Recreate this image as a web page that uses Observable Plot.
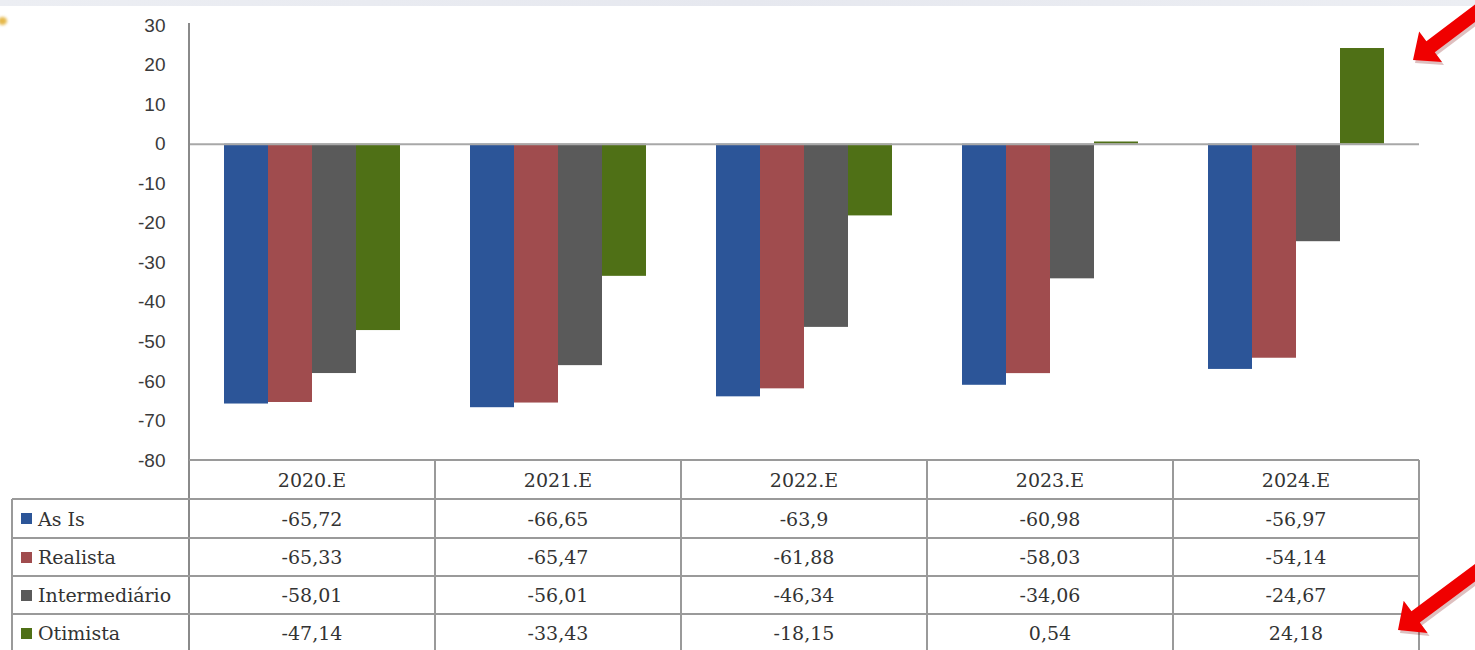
<!DOCTYPE html>
<html><head><meta charset="utf-8">
<script src="https://cdn.jsdelivr.net/npm/d3@7"></script>
<script src="https://cdn.jsdelivr.net/npm/@observablehq/plot@0.6"></script>
<style>
html,body{margin:0;padding:0;background:#fff;}
#wrap{position:relative;width:1475px;height:650px;overflow:hidden;background:#fff;}
#chart{position:absolute;left:0;top:0;}
.ln{position:absolute;background:#9a9a9a;}
.cell{position:absolute;display:flex;align-items:center;justify-content:center;font-family:"DejaVu Serif",serif;font-size:19px;color:#333;white-space:nowrap;}
.lab{justify-content:flex-start;}
.sw{display:inline-block;width:11px;height:11px;margin:0 6px 0 9px;}
</style></head><body>
<div id="wrap">
  <div style="position:absolute;left:0;top:0;width:1475px;height:6px;background:linear-gradient(90deg,#eceef3,#e6e8ef 50%,#eceef3);"></div>
  <div style="position:absolute;left:-2px;top:17px;width:9px;height:8px;border-radius:50%;background:#e5b84a;filter:blur(1.5px);"></div>
  <div id="chart"></div>
  <div id="table"></div>
  <svg id="arrows" width="1475" height="650" style="position:absolute;left:0;top:0;pointer-events:none"></svg>
</div>
<script>
const years = ["2020.E", "2021.E", "2022.E", "2023.E", "2024.E"];
const series = ["As Is", "Realista", "Intermediário", "Otimista"];
const asIs = [-65.72, -66.65, -63.9, -60.98, -56.97];
const realista = [-65.33, -65.47, -61.88, -58.03, -54.14];
const intermediario = [-58.01, -56.01, -46.34, -34.06, -24.67];
const otimista = [-47.14, -33.43, -18.15, 0.54, 24.18];
const valueLabels = [
  ["-65,72", "-66,65", "-63,9", "-60,98", "-56,97"],
  ["-65,33", "-65,47", "-61,88", "-58,03", "-54,14"],
  ["-58,01", "-56,01", "-46,34", "-34,06", "-24,67"],
  ["-47,14", "-33,43", "-18,15", "0,54", "24,18"]
];
const yTicks = [-80, -70, -60, -50, -40, -30, -20, -10, 0, 10, 20, 30];
const colors = ["#2c5598", "#a04c4e", "#5a5a5a", "#4f7016"];

const valuesBySeries = [asIs, realista, intermediario, otimista];
const data = [];
years.forEach((yr, i) => series.forEach((s, j) => data.push({year: yr, series: s, value: valuesBySeries[j][i]})));

const plot = Plot.plot({
  width: 1475, height: 478,
  marginTop: 25, marginBottom: 18, marginLeft: 187, marginRight: 55,
  style: {background: "transparent", fontFamily: "'Liberation Sans', Arial, sans-serif", color: "#3a3a3a"},
  fx: {domain: years, paddingInner: 0, paddingOuter: 0, axis: null, label: null},
  x: {domain: series, paddingInner: 0, paddingOuter: 0.78, axis: null},
  y: {domain: [-80, 30], axis: null},
  color: {domain: series, range: colors},
  marks: [
    Plot.barY(data, {fx: "year", x: "series", y: "value", fill: "series", inset: 0}),
    Plot.ruleY([0], {stroke: "#a8a8a8", strokeWidth: 2}),
    Plot.axisY(yTicks, {tickSize: 0, tickPadding: 24, fontSize: 19, label: null, tickFormat: d => String(d)})
  ]
});
document.getElementById("chart").appendChild(plot);

// table built from the facet scale
const fx = plot.scale("fx");
const y = plot.scale("y");
const bw = fx.bandwidth;
const x0 = fx.apply(years[0]);
const xEnd = fx.apply(years[years.length - 1]) + bw;
const tableTop = Math.round(y.apply(-80));
const rowH = [39, 39, 38, 38, 38];
const rowTops = [tableTop];
rowH.forEach(h => rowTops.push(rowTops[rowTops.length - 1] + h));
const leftX = 12;
const tbl = document.getElementById("table");
function line(x, yy, w, h, color) {
  const d = document.createElement("div");
  d.className = "ln";
  d.style.left = x + "px"; d.style.top = yy + "px"; d.style.width = w + "px"; d.style.height = h + "px";
  if (color) d.style.background = color;
  tbl.appendChild(d);
}
function cell(x, yy, w, h, html, cls) {
  const d = document.createElement("div");
  d.className = "cell" + (cls ? " " + cls : "");
  d.style.left = x + "px"; d.style.top = yy + "px"; d.style.width = w + "px"; d.style.height = h + "px";
  d.innerHTML = html;
  tbl.appendChild(d);
}
// axis line
line(x0 - 1, Math.round(y.apply(30)) - 2, 2, 650, "#8a8a8a");
// horizontal lines
line(x0, rowTops[0] - 1, xEnd - x0, 2);
for (let r = 1; r < rowTops.length - 1; r++) line(leftX, rowTops[r] - 1, xEnd - leftX, 2);
// vertical lines
years.forEach(yr => line(fx.apply(yr) + bw - 1, rowTops[0], 2, 650));
line(leftX - 1, rowTops[1], 2, 650);
// header
years.forEach(yr => cell(fx.apply(yr), rowTops[0], bw, rowH[0], yr));
series.forEach((s, j) => {
  cell(leftX, rowTops[j + 1], x0 - leftX, rowH[j + 1], `<span class="sw" style="background:${colors[j]}"></span>${s}`, "lab");
  years.forEach((yr, i) => cell(fx.apply(yr), rowTops[j + 1], bw, rowH[j + 1], valueLabels[j][i]));
});

// red annotation arrows
const svg = d3.select("#arrows");
function arrow(tail, tip, headLen, headHalf, shaftHalf) {
  const dx = tip[0] - tail[0], dy = tip[1] - tail[1];
  const L = Math.hypot(dx, dy);
  const ux = dx / L, uy = dy / L, px = -uy, py = ux;
  const bx = tip[0] - ux * headLen, by = tip[1] - uy * headLen;
  const pts = [
    [tail[0] + px * shaftHalf, tail[1] + py * shaftHalf],
    [bx + px * shaftHalf, by + py * shaftHalf],
    [bx + px * headHalf, by + py * headHalf],
    tip,
    [bx - px * headHalf, by - py * headHalf],
    [bx - px * shaftHalf, by - py * shaftHalf],
    [tail[0] - px * shaftHalf, tail[1] - py * shaftHalf]
  ];
  svg.append("polygon").attr("points", pts.map(p => p.join(",")).join(" "))
    .attr("fill", "#7a0000").attr("opacity", 0.25).attr("transform", "translate(2,3)");
  svg.append("polygon").attr("points", pts.map(p => p.join(",")).join(" ")).attr("fill", "#f00000");
}
arrow([1490, 2], [1413, 60], 22, 19, 7);
arrow([1492, 560], [1398, 630], 22, 20, 7);
</script>
</body></html>
